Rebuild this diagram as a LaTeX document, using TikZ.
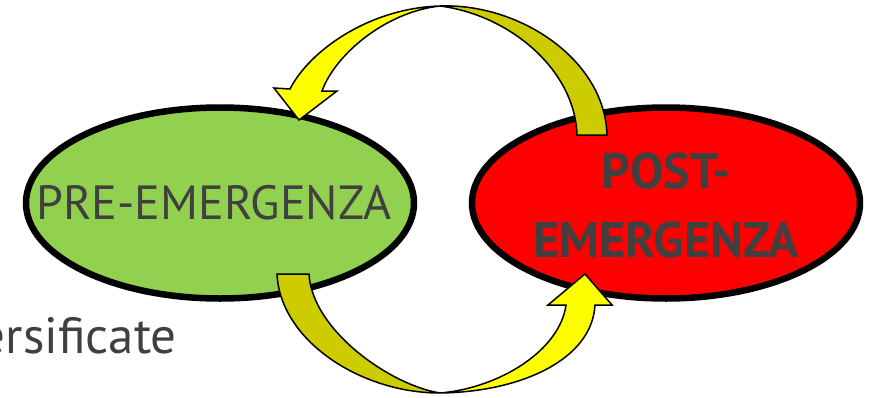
\documentclass[tikz,border=0pt]{standalone}
\usepackage{fontspec}
\setmainfont{PT Sans}
\usetikzlibrary{shapes.geometric}
\definecolor{leafgreen}{HTML}{92D050}
\definecolor{arrowlight}{HTML}{FFFF00}
\definecolor{arrowdark}{HTML}{CCCC00}
\definecolor{textgray}{HTML}{404040}

\begin{document}
\begin{tikzpicture}[x=1pt,y=-1pt]
\tikzstyle{phase}=[ellipse,draw=black,line width=6.5pt,minimum width=388pt,minimum height=191pt,inner sep=0pt]
\tikzstyle{phaselabel}=[inner sep=0pt,text=textgray,align=center]
\tikzstyle{band}=[draw=black,line width=1.5pt,line join=miter]
\useasboundingbox (0,0) rectangle (879,397);
% the two phases
\node [phase,fill=leafgreen] (pre) at (220,203) {};
\node [phase,fill=red] (post) at (666,203) {};
\node [phaselabel,font=\fontsize{48}{58}\selectfont] (prelabel) at (214,203) {PRE-EMERGENZA};
\node [phaselabel,font=\bfseries\fontsize{50}{69}\selectfont] (postlabel) at (666,205) {POST-\\EMERGENZA};
% text cut at the left edge
\node [anchor=base east,inner sep=0pt,text=textgray,font=\fontsize{51}{60}\selectfont] (note) at (177,353) {ersificate};
% top arrow: from post back to pre
\coordinate (toptop) at (440,6);
\draw [band,fill=arrowdark] (toptop) .. controls (520,3) and (605,60) .. (607,135)
  -- (577,135) .. controls (575,70) and (510,15) .. (toptop) -- cycle;
\draw [band,fill=arrowlight] (toptop) .. controls (370,8) and (310,50) .. (290,89)
  -- (274,88) -- (299,120) -- (337,91) -- (322,91)
  .. controls (335,55) and (385,12) .. (toptop) -- cycle;
% bottom arrow: from pre to post
\coordinate (botbot) at (440,393);
\draw [band,fill=arrowdark] (277,274) .. controls (280,340) and (360,393) .. (botbot)
  .. controls (390,385) and (312,330) .. (309,274) -- cycle;
\draw [band,fill=arrowlight] (botbot) .. controls (520,392) and (592,360) .. (595,305)
  -- (612,305) -- (585,274) -- (548,305) -- (566,305)
  .. controls (560,350) and (500,388) .. (botbot) -- cycle;
\end{tikzpicture}
\end{document}
